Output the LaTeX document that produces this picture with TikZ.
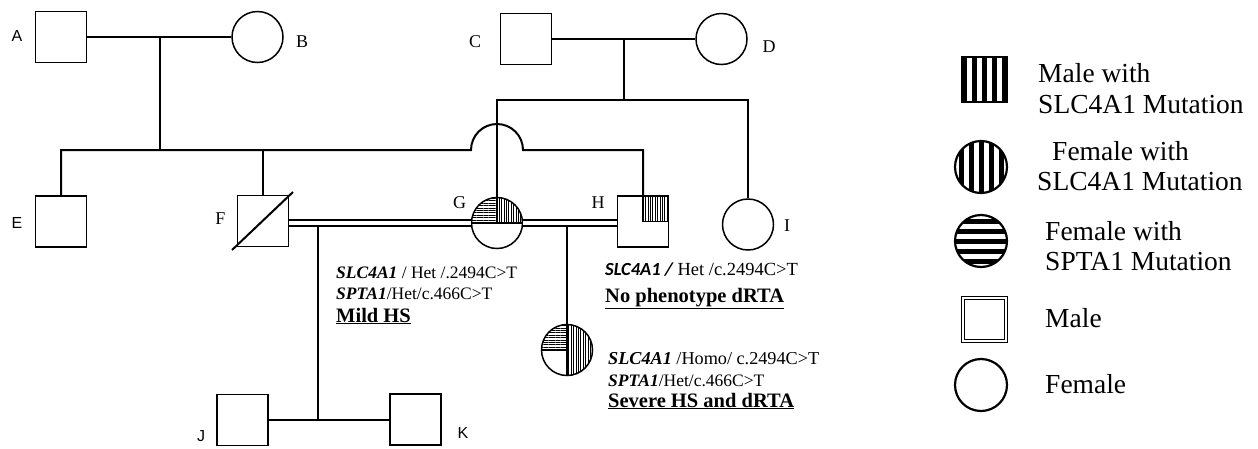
\documentclass[tikz,border=0pt]{standalone}
\usepackage{fontspec}
\setmainfont{Liberation Serif}
\newfontfamily\arialf{Liberation Sans}
\newfontfamily\calib{Carlito}
\usetikzlibrary{patterns.meta}
\tikzset{
  male/.style={draw, rectangle, line width=1.5pt, minimum size=51pt, inner sep=0pt},
  female/.style={draw, circle, line width=1.5pt, minimum size=51pt, inner sep=0pt},
  pline/.style={line width=2pt, line join=miter},
  couple/.style={double, double distance=4.5pt, line width=1.7pt},
  hpat/.style={pattern={Lines[angle=0,distance=2.4pt,line width=0.9pt]}},
  vpat/.style={pattern={Lines[angle=90,distance=2.4pt,line width=0.9pt]}},
  lab/.style={inner sep=0pt, font=\fontsize{18}{20}\selectfont},
  slab/.style={inner sep=0pt, font=\arialf\fontsize{16}{18}\selectfont},
  ptext/.style={anchor=base west, inner sep=0pt, font=\fontsize{17.5}{20}\selectfont},
  phead/.style={anchor=base west, inner sep=0pt, font=\fontsize{20.5}{22}\selectfont\bfseries},
  ltext/.style={anchor=base west, inner sep=0pt, font=\fontsize{27.5}{30}\selectfont},
  legline/.style={line width=2.2pt},
}
\begin{document}
\begin{tikzpicture}[x=1pt,y=-1pt]
\useasboundingbox[fill=white] (0,0) rectangle (1258,448);

% generation I
\node[male] (A) at (61,37) {};
\node[female] (B) at (257.5,37) {};
\node[male] (C) at (526,39) {};
\node[female] (D) at (721.5,39) {};
\node[slab] (lA) at (17,36) {A};
\node[lab] (lB) at (302,42) {B};
\node[lab] (lC) at (475,41.5) {C};
\node[lab] (lD) at (769,46.5) {D};

% generation II
\node[male] (E) at (61,221.5) {};
\node[male] (F) at (263,221) {};
\node[female, path picture={
   \fill[hpat] (path picture bounding box.center) rectangle (path picture bounding box.north west);
   \fill[vpat] (path picture bounding box.center) rectangle (path picture bounding box.north east);
   \draw[line width=1.5pt] (path picture bounding box.west) -- (path picture bounding box.east);
   \draw[line width=1.5pt] (path picture bounding box.center) -- (path picture bounding box.north);
  }] (G) at (497,223) {};
\node[male, path picture={
   \fill[vpat] (path picture bounding box.center) rectangle (path picture bounding box.north east);
   \draw[line width=1.5pt] (path picture bounding box.center) rectangle (path picture bounding box.north east);
  }] (H) at (643,221.5) {};
\node[female] (I) at (748,224.5) {};
\node[slab] (lE) at (17,223) {E};
\node[lab] (lF) at (220.5,219) {F};
\node[lab] (lG) at (459.5,202.5) {G};
\node[lab] (lH) at (598,203) {H};
\node[lab] (lI) at (787,225.5) {I};

% generation III
\node[male] (J) at (242.5,420) {};
\node[male] (K) at (415.5,419.5) {};
\node[female, path picture={
   \fill[hpat] (path picture bounding box.center) rectangle (path picture bounding box.north west);
   \fill[vpat] (path picture bounding box.north) rectangle (path picture bounding box.south east);
   \draw[line width=1.5pt] (path picture bounding box.west) -- (path picture bounding box.center);
   \draw[line width=1.5pt] (path picture bounding box.north) -- (path picture bounding box.south);
  }] (L) at (567,350) {};
\node[slab] (lJ) at (201,436) {J};
\node[slab] (lK) at (463,433) {K};

% deceased slash for F
\coordinate (fs1) at (232,250);
\coordinate (fs2) at (293,192);
\draw[line width=2pt] (fs1) -- (fs2);

% connectors generation I
\coordinate (abm) at (160,37);
\coordinate (abs) at (160,150);
\coordinate (hopL) at (471,150);
\draw[pline] (A.east) -- (B.west);
\draw[pline] (abm) -- (abs);
\draw[pline] (E.north) |- (hopL) arc[start angle=180, end angle=360, radius=26] -| (H.north);
\draw[pline] (F.north) -- (F.north |- abs);

\coordinate (cdm) at (624,39);
\coordinate (cds) at (624,100);
\draw[pline] (C.east) -- (D.west);
\draw[pline] (cdm) -- (cds);
\draw[pline] (G.north) |- (cds) -| (I.north);

% couples
\draw[couple] (F.east |- G.west) -- (G.west);
\draw[couple] (G.east) -- (H.west |- G.east);
\coordinate (fgc) at (318,226);
\coordinate (jk) at (318,420);
\draw[pline] (fgc) -- (jk);
\draw[pline] (J.east |- jk) -- (K.west |- jk);
\coordinate (ghc) at (567,226);
\draw[pline] (ghc) -- (L.north);

% annotations
\node[ptext] (t1a) at (336,278) {\textbf{\textit{SLC4A1}} / Het /.2494C>T};
\node[ptext] (t1b) at (336,299) {\textbf{\textit{SPTA1}}/Het/c.466C>T};
\node[phead] (t1c) at (336,322) {\underline{Mild HS}};
\node[ptext, font=\fontsize{18.5}{20}\selectfont] (t2a) at (605,275) {{\calib\bfseries\itshape SLC4A1 /} Het /c.2494C>T};
\node[phead] (t2b) at (605,302) {\underline{No phenotype dRTA}};
\node[ptext, font=\fontsize{18.2}{20}\selectfont] (t3a) at (608,364) {\textbf{\textit{SLC4A1}} /Homo/ c.2494C>T};
\node[ptext] (t3b) at (608,386) {\textbf{\textit{SPTA1}}/Het/c.466C>T};
\node[phead] (t3c) at (608,407) {\underline{Severe HS and dRTA}};

% legend
\node[draw, rectangle, line width=1.2pt, minimum size=45pt, inner sep=0pt, path picture={
   \foreach \i in {0,...,4} \fill ([xshift=\i*10pt]path picture bounding box.north west) rectangle ++(5pt,-50pt);
  }] (lgM) at (984.5,79.5) {};
\node[draw, circle, legline, minimum size=52pt, inner sep=0pt, path picture={
   \foreach \i in {0,...,4} \fill ([xshift=4pt+\i*10pt]path picture bounding box.north west) rectangle ++(4.5pt,-60pt);
  }] (lgF1) at (981,167) {};
\node[draw, circle, legline, minimum size=52pt, inner sep=0pt, path picture={
   \foreach \i in {0,...,4} \fill ([yshift=-4pt-\i*10pt]path picture bounding box.north west) rectangle ++(60pt,-4.5pt);
  }] (lgF2) at (981,241) {};
\node[draw, rectangle, double, double distance=2pt, line width=1pt, minimum size=43pt, inner sep=0pt] (lgM2) at (984.5,319) {};
\node[draw, circle, legline, minimum size=52pt, inner sep=0pt] (lgF3) at (981,385) {};

\node[ltext] (l1a) at (1038,82) {Male with};
\node[ltext] (l1b) at (1038,113) {SLC4A1 Mutation};
\node[ltext] (l2a) at (1052,160) {Female with};
\node[ltext] (l2b) at (1037,190) {SLC4A1 Mutation};
\node[ltext] (l3a) at (1045,240) {Female with};
\node[ltext] (l3b) at (1045,270) {SPTA1 Mutation};
\node[ltext] (l4) at (1045,327) {Male};
\node[ltext] (l5) at (1045,393) {Female};
\end{tikzpicture}
\end{document}
